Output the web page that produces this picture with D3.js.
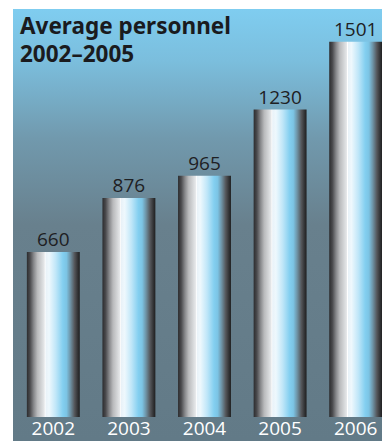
<!DOCTYPE html>
<html>
<head>
<meta charset="utf-8">
<script src="https://cdn.jsdelivr.net/npm/d3@7"></script>
<style>
  html, body { margin: 0; padding: 0; background: #fff; }
  svg { display: block; }
</style>
</head>
<body>
<svg id="chart" width="382" height="441"></svg>
<script>
// Average personnel per year
const years = ["2002", "2003", "2004", "2005", "2006"];
const personnel = [660, 876, 965, 1230, 1501];
const titleLines = ["Average personnel", "2002–2005"];

const W = 382, H = 441;
const svg = d3.select("#chart");
const defs = svg.append("defs");

// Panel background: sky blue fading down to slate grey
const bg = defs.append("linearGradient")
  .attr("id", "panelGrad").attr("x1", 0).attr("y1", 0).attr("x2", 0).attr("y2", 1);
[[0, "#7fcdf0"], [0.12, "#7bbedd"], [0.3, "#7199ad"], [0.5, "#68808d"], [1, "#627a87"]]
  .forEach(([o, c]) => bg.append("stop").attr("offset", o).attr("stop-color", c));

// Cylinder shading across each bar
const cyl = defs.append("linearGradient")
  .attr("id", "cylGrad").attr("x1", 0).attr("y1", 0).attr("x2", 1).attr("y2", 0);
[[0, "#2c2c2e"], [0.06, "#4a4a4d"], [0.13, "#87888b"], [0.2, "#b9babc"],
 [0.28, "#d4d6d8"], [0.33, "#e6e8ea"], [0.345, "#ffffff"], [0.36, "#e9f2f8"],
 [0.42, "#eef8fd"], [0.55, "#bfe6f8"], [0.68, "#83cff0"], [0.75, "#7cc4e4"],
 [0.82, "#6f95a8"], [0.9, "#55575b"], [0.96, "#333436"], [1, "#1f1f20"]]
  .forEach(([o, c]) => cyl.append("stop").attr("offset", o).attr("stop-color", c));

svg.append("rect")
  .attr("x", 13).attr("y", 9).attr("width", W - 13).attr("height", H - 9)
  .attr("fill", "url(#panelGrad)");

const x = d3.scaleBand().domain(years).range([14, 395]).paddingInner(0.3).paddingOuter(0.17);
const y = d3.scaleLinear().domain([0, 1668]).range([417, 0]);

const bars = svg.append("g").selectAll("g").data(years).join("g");

bars.append("rect")
  .attr("x", d => x(d))
  .attr("y", (d, i) => y(personnel[i]))
  .attr("width", x.bandwidth())
  .attr("height", (d, i) => y(0) - y(personnel[i]))
  .attr("fill", "url(#cylGrad)");

bars.append("text")
  .attr("x", d => x(d) + x.bandwidth() / 2)
  .attr("y", (d, i) => y(personnel[i]) - 6)
  .attr("text-anchor", "middle")
  .attr("font-family", "'Open Sans', 'Noto Sans', sans-serif")
  .attr("font-size", 19)
  .attr("fill", "#1e2023")
  .text((d, i) => personnel[i]);

// Year axis along the bottom
const axis = svg.append("g")
  .attr("transform", `translate(0,${y(0)})`)
  .call(d3.axisBottom(x).tickSize(0).tickPadding(4));
axis.select(".domain").remove();
axis.selectAll("text")
  .attr("font-family", "'Open Sans', 'Noto Sans', sans-serif")
  .attr("font-size", 19)
  .attr("fill", "#ffffff");

// Two-line bold title
svg.append("g").selectAll("text").data(titleLines).join("text")
  .attr("x", 20)
  .attr("y", (d, i) => 34 + i * 28)
  .attr("font-family", "'Noto Sans', 'Open Sans', sans-serif")
  .attr("font-weight", "bold")
  .attr("font-size", 22.5)
  .attr("fill", "#1a1b1e")
  .text(d => d);
</script>
</body>
</html>
